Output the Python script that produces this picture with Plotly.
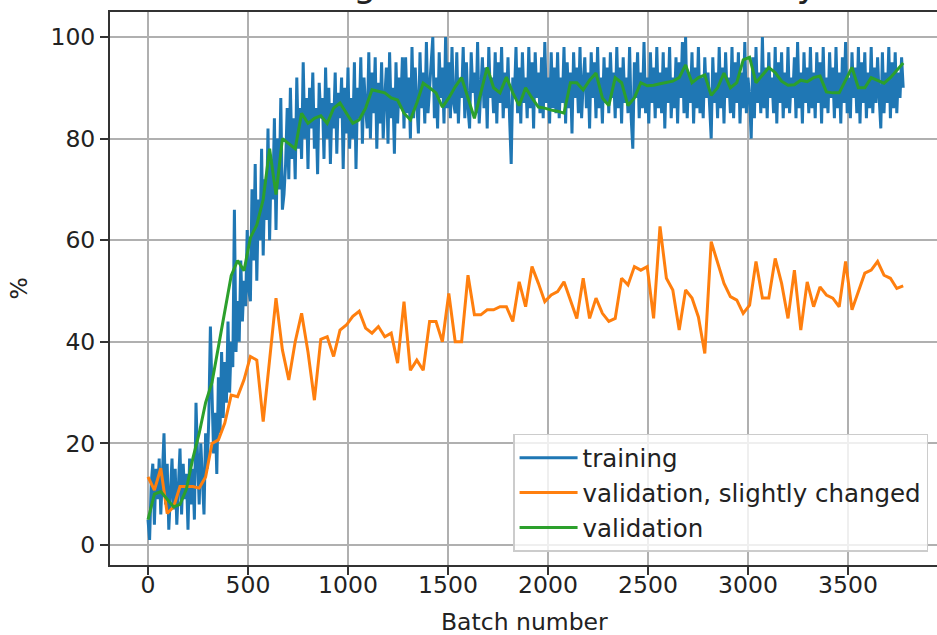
import plotly.graph_objects as go

# ---------------- data ----------------
train_step = 8
train_acc = [
    # 0 - 248
    5, 1, 12, 16, 4, 15, 9, 17, 6, 14, 22, 8, 16, 3, 12, 17,
    7, 15, 4, 13, 19, 6, 16, 9, 14, 3, 17, 8, 15, 5, 28, 17,
    # 256 - 504
    8, 20, 12, 6, 22, 15, 25, 43, 30, 18, 26, 14, 33, 22, 38, 25,
    36, 28, 44, 30, 40, 35, 66, 38, 48, 40, 56, 44, 52, 47, 62, 50,
    # 512 - 760
    48, 70, 56, 75, 52, 68, 60, 78, 57, 72, 64, 82, 60, 76, 68, 84,
    62, 80, 70, 88, 66, 69, 75, 86, 72, 90, 76, 84, 72, 92, 78, 86,
    # 768 - 1016
    76, 95, 80, 88, 74, 90, 82, 93, 78, 86, 73, 91, 84, 88, 76, 94,
    80, 90, 75, 87, 82, 93, 77, 89, 84, 92, 74, 90, 81, 94, 78, 88,
    # 1024 - 1272
    80, 95, 74, 90, 84, 96, 79, 92, 86, 82, 97, 80, 93, 85, 96, 78,
    91, 83, 95, 80, 88, 94, 79, 97, 84, 90, 77, 95, 83, 92, 86, 96,
    # 1280 - 1528
    82, 96, 85, 92, 80, 98, 84, 94, 87, 81, 97, 86, 93, 83, 99, 85,
    90, 96, 100, 84, 92, 82, 97, 88, 94, 83, 100, 86, 95, 84, 98, 87,
    # 1536 - 1784
    85, 97, 83, 92, 88, 98, 84, 95, 86, 82, 97, 89, 93, 85, 99, 83,
    91, 96, 86, 94, 82, 98, 88, 92, 85, 97, 83, 95, 87, 98, 84, 93,
    # 1792 - 2040
    86, 96, 84, 75, 92, 88, 98, 85, 94, 83, 97, 87, 92, 84, 98, 86,
    95, 82, 97, 88, 93, 85, 96, 84, 99, 87, 92, 83, 97, 86, 94, 85,
    # 2048 - 2296
    97, 84, 92, 87, 98, 83, 95, 86, 93, 81, 97, 88, 94, 85, 98, 84,
    91, 96, 86, 93, 82, 97, 88, 95, 84, 98, 86, 92, 83, 96, 87, 94,
    # 2304 - 2552
    85, 97, 88, 93, 84, 98, 86, 94, 83, 96, 87, 92, 85, 98, 84, 78,
    95, 88, 97, 84, 93, 86, 99, 85, 92, 83, 97, 87, 94, 84, 98, 86,
    # 2560 - 2808
    93, 85, 97, 82, 94, 87, 98, 84, 92, 86, 96, 83, 95, 88, 99, 85,
    100, 84, 93, 87, 97, 83, 94, 86, 98, 85, 92, 84, 96, 88, 93, 85,
    # 2816 - 3064
    80, 96, 87, 93, 84, 98, 86, 94, 83, 97, 88, 92, 85, 98, 84, 95,
    87, 97, 83, 93, 86, 99, 85, 92, 88, 80, 96, 84, 98, 87, 93, 85,
    # 3072 - 3320
    100, 86, 94, 84, 97, 88, 92, 85, 98, 83, 95, 87, 97, 84, 93, 86,
    98, 85, 92, 88, 96, 84, 99, 86, 93, 83, 97, 87, 94, 85, 98, 86,
    # 3328 - 3576
    93, 84, 97, 87, 95, 83, 98, 86, 92, 85, 97, 88, 94, 84, 98, 86,
    93, 83, 96, 87, 99, 85, 92, 84, 97, 88, 94, 85, 98, 83, 95, 87,
    # 3584 - 3776
    97, 84, 93, 86, 98, 85, 94, 87, 96, 88, 82, 97, 85, 93, 87, 98,
    84, 95, 86, 97, 85, 93, 88, 96, 90,
]
train_batches = [i * train_step for i in range(len(train_acc))]

val_step = 32
val_changed_acc = [
    13.4, 10.8, 15.1, 6.2, 7.5, 11.5, 11.5, 11.5, 11.2, 13.4,
    20.0, 20.7, 24.0, 29.5, 29.2, 32.5, 37.1, 36.4, 24.3, 36.0,
    48.6, 38.4, 32.5, 40.0, 45.6, 38.0, 28.5, 40.5, 41.0, 37.1,
    42.3, 43.3, 45.0, 46.0, 42.7, 41.7, 43.0, 41.0, 41.7, 35.8,
    47.9, 34.4, 36.4, 34.4, 44.0, 44.0, 40.0, 49.5, 40.0, 40.0,
    53.1, 45.3, 45.3, 46.3, 46.3, 46.9, 46.9, 44.0, 51.8, 46.9,
    54.8, 51.5, 47.9, 49.2, 49.9, 51.8, 48.2, 44.6, 52.5, 44.6,
    48.6, 45.6, 44.0, 44.6, 52.5, 51.2, 54.8, 54.1, 54.8, 44.6,
    62.7, 52.5, 50.2, 42.3, 50.2, 48.6, 44.9, 37.7, 59.7, 55.8,
    51.5, 48.9, 48.2, 45.6, 47.2, 55.8, 48.6, 48.6, 56.4, 51.5,
    44.6, 54.1, 42.3, 51.8, 46.9, 50.8, 49.2, 48.6, 46.9, 55.8,
    46.3, 49.9, 53.5, 54.1, 55.8, 53.1, 52.5, 50.5, 51.0,
]
val_acc = [
    5.0, 10.0, 10.5, 9.0, 7.5, 8.0, 11.0, 17.0, 22.0, 28.0,
    32.0, 39.0, 46.0, 53.0, 56.0, 54.0, 60.5, 63.0, 68.0, 78.0,
    69.0, 80.0, 79.0, 78.0, 85.0, 83.0, 84.0, 84.5, 83.0, 86.0,
    87.0, 85.0, 83.0, 83.7, 86.0, 89.6, 89.3, 89.0, 88.0, 87.6,
    85.0, 83.7, 87.0, 90.9, 90.0, 89.0, 86.2, 88.0, 90.2, 92.0,
    88.0, 84.0, 89.0, 94.0, 90.0, 89.0, 92.1, 89.0, 86.5, 90.0,
    88.0, 86.2, 86.0, 85.6, 85.4, 85.0, 91.0, 91.0, 89.6, 91.5,
    92.9, 88.0, 86.5, 92.0, 91.0, 86.5, 88.0, 91.0, 90.4, 90.5,
    90.8, 91.1, 91.3, 92.0, 94.5, 91.0, 92.0, 92.5, 88.5, 90.0,
    92.9, 90.0, 91.0, 95.5, 96.0, 91.0, 92.5, 94.0, 93.0, 91.3,
    90.5, 90.6, 91.5, 91.2, 92.0, 92.3, 89.2, 89.0, 89.0, 91.5,
    94.0, 90.0, 90.0, 92.0, 91.5, 90.9, 92.0, 93.5, 94.9,
]
val_batches = [i * val_step for i in range(len(val_acc))]

x_ticks = [0, 500, 1000, 1500, 2000, 2500, 3000, 3500]
y_ticks = [0, 20, 40, 60, 80, 100]

title_text = "Training and validation accuracy"
x_label = "Batch number"
y_label = "%"
names = ["training", "validation, slightly changed", "validation"]
colors = ["#1f77b4", "#ff7f0e", "#2ca02c"]

# ---------------- figure ----------------
FONT = "DejaVu Sans"
fig = go.Figure()
fig.add_trace(go.Scatter(x=train_batches, y=train_acc, mode="lines", name=names[0],
                         line=dict(color=colors[0], width=3)))
fig.add_trace(go.Scatter(x=val_batches, y=val_changed_acc, mode="lines", name=names[1],
                         line=dict(color=colors[1], width=3)))
fig.add_trace(go.Scatter(x=val_batches, y=val_acc, mode="lines", name=names[2],
                         line=dict(color=colors[2], width=3)))

axis_common = dict(
    showgrid=True, gridcolor="#b0b0b0", gridwidth=1.5, zeroline=False,
    showline=True, linecolor="#333333", linewidth=2,
    ticks="outside", ticklen=8, tickwidth=2, tickcolor="#333333",
    tickfont=dict(family=FONT, size=23.5, color="#222222"),
)
fig.update_xaxes(range=[-190, 3945], tickvals=x_ticks, mirror=True,
                 ticklabelstandoff=-10, **axis_common)
fig.update_yaxes(range=[-3.94, 104.92], tickvals=y_ticks, mirror=False, **axis_common)

fig.add_annotation(text=title_text, xref="paper", yref="paper", x=0.503, y=1.0089,
                   xanchor="center", yanchor="bottom", showarrow=False,
                   font=dict(family=FONT, size=36, color="#222222"))
fig.add_annotation(text=x_label, xref="paper", yref="paper", x=0.5018, y=-0.1031,
                   xanchor="center", yanchor="middle", showarrow=False,
                   font=dict(family=FONT, size=23.5, color="#222222"))
fig.add_annotation(text=y_label, xref="paper", yref="paper", x=-0.1112, y=0.5,
                   xanchor="center", yanchor="middle", showarrow=False, textangle=-90,
                   font=dict(family=FONT, size=23.5, color="#222222"))

fig.update_layout(
    width=937, height=635,
    margin=dict(l=110, r=0, t=12, b=70),
    paper_bgcolor="white", plot_bgcolor="white",
    showlegend=True,
    legend=dict(x=0.9892, y=0.0238, xanchor="right", yanchor="bottom",
                bgcolor="rgba(255,255,255,0.8)", bordercolor="#cccccc", borderwidth=1.5,
                font=dict(family=FONT, size=24.5, color="#222222"),
                itemwidth=58),
)

fig.write_html("out.html", config={"displayModeBar": False},
               post_script="document.body.style.margin='0';")
